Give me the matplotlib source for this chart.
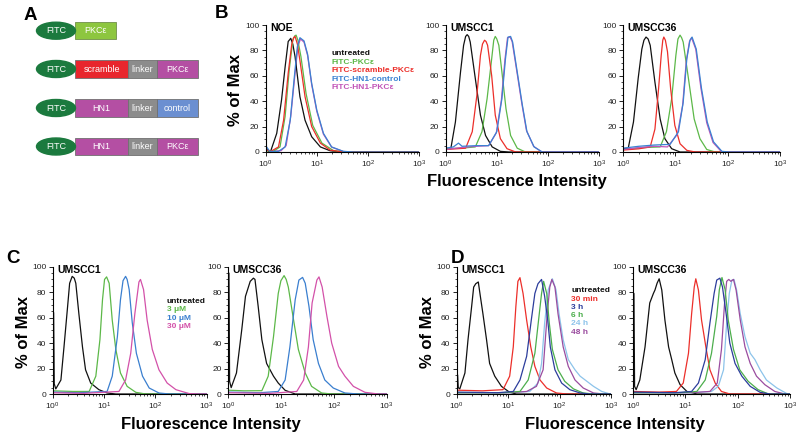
import matplotlib
matplotlib.use("Agg")
import matplotlib.pyplot as plt
import numpy as np
from matplotlib.patches import Ellipse, Rectangle
from matplotlib.ticker import FixedLocator, MultipleLocator, FuncFormatter, LogLocator, NullFormatter

plt.rcParams['font.family'] = ['Liberation Sans', 'DejaVu Sans']
plt.rcParams['mathtext.default'] = 'regular'

W, H = 800, 436

# ---- panel A constructs ----
a_rows = [["PKCε"], ["scramble", "linker", "PKCε"], ["HN1", "linker", "control"], ["HN1", "linker", "PKCε"]]
a_seg_colors = {"PKCε": "#b44fa3", "scramble": "#e8262d", "linker": "#8c8c8c",
                "HN1": "#b44fa3", "control": "#6b8fd1"}
a_first_color = "#8dc63f"   # PKCε alone is green

# ---- histogram data: (log10 intensity, % of max) ----
# B, NOE
noe_untr = [(0, 4), (0.05, 0.5), (0.1, 1), (0.216, 14.7), (0.31, 41), (0.38, 67), (0.44, 87), (0.49, 89.5), (0.53, 85), (0.575, 75), (0.67, 43.5), (0.77, 25), (0.9, 12), (1.07, 4), (1.26, 1), (1.46, 0), (3, 0)]
noe_pkc = [(0, 1), (0.15, 0.5), (0.28, 4), (0.38, 28), (0.46, 64.5), (0.53, 88), (0.57, 91.5), (0.595, 92), (0.63, 88), (0.69, 75), (0.79, 46), (0.92, 21), (1.1, 7), (1.33, 1), (1.59, 0), (3, 0)]
noe_scr = [(0, 2), (0.1, 0.5), (0.25, 4), (0.35, 25), (0.44, 62), (0.51, 85), (0.545, 90), (0.575, 91), (0.62, 85), (0.67, 72), (0.77, 43.5), (0.9, 20), (1.07, 7), (1.26, 1.5), (1.52, 0), (3, 0)]
noe_ctrl = [(0, 5), (0.08, 0.5), (0.25, 0.5), (0.38, 4), (0.48, 25), (0.56, 59), (0.62, 83), (0.67, 90), (0.75, 87.5), (0.82, 77), (0.9, 54), (1.0, 33), (1.13, 14.7), (1.29, 4), (1.52, 0.5), (1.72, 0), (3, 0)]
noe_hn1 = [(0, 3), (0.08, 0.5), (0.3, 1), (0.4, 5), (0.49, 28), (0.57, 60), (0.63, 83), (0.68, 89), (0.75, 86.5), (0.82, 76), (0.9, 53), (1.0, 32), (1.13, 14), (1.29, 3.8), (1.52, 0.4), (1.72, 0), (3, 0)]
# B, UMSCC1
b1_untr = [(0, 3), (0.1, 2.6), (0.19, 23.6), (0.29, 63), (0.35, 84), (0.39, 91), (0.42, 92.4), (0.45, 91), (0.48, 86.6), (0.58, 57.7), (0.68, 29), (0.78, 13), (0.91, 4), (1.07, 0.5), (1.24, 0), (3, 0)]
b1_pkc = [(0, 2.6), (0.3, 3), (0.58, 4), (0.71, 16), (0.81, 42), (0.9, 73.5), (0.94, 88), (0.97, 91), (1.0, 89), (1.04, 84), (1.1, 63), (1.18, 34), (1.27, 13), (1.4, 3), (1.56, 0), (3, 0)]
b1_scr = [(0, 2), (0.2, 2.5), (0.39, 3), (0.52, 16), (0.61, 44.6), (0.68, 76), (0.72, 85), (0.76, 88), (0.79, 87), (0.82, 84), (0.9, 60), (0.97, 29), (1.07, 10.5), (1.2, 2.6), (1.37, 0), (3, 0)]
b1_ctrl = [(0, 3), (0.15, 4), (0.25, 7), (0.32, 4.5), (0.6, 5), (0.84, 5), (1.0, 16), (1.1, 42), (1.17, 73.5), (1.22, 90.5), (1.27, 91), (1.31, 86.6), (1.4, 63), (1.5, 37), (1.59, 16), (1.73, 4), (1.89, 0), (3, 0)]
b1_hn1 = [(0, 2), (0.3, 3.5), (0.6, 4.5), (0.84, 5), (0.99, 15), (1.09, 41), (1.16, 73), (1.21, 90), (1.26, 90.5), (1.3, 87), (1.39, 64), (1.49, 38), (1.58, 17), (1.72, 4.5), (1.88, 0), (3, 0)]
# B, UMSCC36
b36_untr = [(0, 2.6), (0.1, 3), (0.2, 23.6), (0.29, 58), (0.36, 81), (0.4, 88), (0.44, 90.5), (0.48, 89), (0.52, 84), (0.61, 55), (0.71, 26), (0.8, 10.5), (0.93, 2.6), (1.09, 0), (3, 0)]
b36_pkc = [(0, 2), (0.4, 3.5), (0.71, 4), (0.83, 16), (0.93, 42), (1.01, 76), (1.05, 89), (1.09, 92), (1.12, 90), (1.15, 86.6), (1.25, 58), (1.36, 26), (1.47, 10.5), (1.6, 2), (1.76, 0), (3, 0)]
b36_scr = [(0, 1.5), (0.3, 2.5), (0.52, 4), (0.61, 18), (0.68, 50), (0.73, 76), (0.76, 88), (0.78, 90.5), (0.81, 88), (0.85, 79), (0.91, 50), (0.99, 21), (1.09, 6.5), (1.22, 1.3), (1.38, 0), (3, 0)]
b36_ctrl = [(0, 3), (0.3, 4.5), (0.6, 5.5), (0.9, 6), (1.06, 16), (1.15, 39), (1.22, 73.5), (1.28, 88), (1.32, 90.5), (1.4, 81), (1.5, 50), (1.61, 23.6), (1.73, 8), (1.89, 0.5), (2.04, 0), (3, 0)]
b36_hn1 = [(0, 2), (0.3, 3.5), (0.6, 4.5), (0.85, 4), (1.04, 14), (1.14, 37), (1.21, 72), (1.27, 87), (1.31, 90), (1.39, 81), (1.49, 50), (1.6, 23), (1.72, 7.5), (1.88, 0.3), (2.04, 0), (3, 0)]
# C, UMSCC1
c1_untr = [(0, 3), (0.018, 64), (0.03, 8), (0.06, 4), (0.16, 11), (0.22, 37), (0.29, 68.6), (0.33, 87), (0.38, 92.4), (0.42, 91), (0.45, 87), (0.51, 63), (0.58, 37), (0.64, 19), (0.74, 8.6), (0.9, 3.4), (1.06, 0.8), (1.23, 0), (3, 0)]
c1_3 = [(0, 2.5), (0.4, 2), (0.71, 2), (0.84, 14), (0.92, 42.7), (0.97, 74), (1.01, 90), (1.05, 92), (1.1, 87), (1.16, 58), (1.23, 35), (1.32, 16.5), (1.45, 6), (1.62, 1.3), (1.81, 0), (3, 0)]
c1_10 = [(0, 1.5), (0.5, 1), (1.06, 2), (1.16, 14), (1.26, 45), (1.32, 74), (1.37, 89), (1.42, 92.4), (1.45, 90), (1.49, 82), (1.55, 56), (1.63, 32), (1.75, 14), (1.88, 4.7), (2.07, 0.8), (2.27, 0), (3, 0)]
c1_30 = [(0, 1), (0.6, 0.5), (1.29, 2), (1.42, 11), (1.52, 32), (1.6, 63), (1.68, 88), (1.71, 90), (1.77, 82), (1.84, 58), (1.94, 35), (2.07, 19), (2.23, 8.6), (2.4, 3.4), (2.66, 0.3), (2.85, 0), (3, 0)]
# C, UMSCC36
c36_untr = [(0, 3), (0.018, 95), (0.03, 10), (0.06, 5), (0.16, 16.5), (0.26, 50.5), (0.33, 76.7), (0.42, 88.5), (0.48, 91), (0.51, 90), (0.57, 69), (0.64, 42.7), (0.73, 24), (0.86, 14), (0.95, 8.6), (1.08, 2.9), (1.27, 0), (3, 0)]
c36_3 = [(0, 3), (0.3, 2.5), (0.64, 2.6), (0.76, 14), (0.86, 45), (0.95, 79), (1.0, 89), (1.06, 93), (1.1, 90), (1.14, 84), (1.24, 58), (1.33, 35), (1.46, 16.5), (1.58, 6), (1.77, 0.8), (1.96, 0), (3, 0)]
c36_10 = [(0, 1.5), (0.6, 1), (0.95, 2), (1.08, 11), (1.17, 37), (1.27, 74), (1.34, 89.5), (1.41, 91.6), (1.46, 87), (1.53, 69), (1.61, 42.7), (1.71, 24), (1.83, 11), (1.99, 4.7), (2.21, 0.8), (2.46, 0), (3, 0)]
c36_30 = [(0, 1), (0.8, 0.5), (1.3, 2), (1.43, 11), (1.52, 37), (1.59, 71.5), (1.68, 89.5), (1.72, 92), (1.78, 84), (1.87, 61), (1.96, 40), (2.09, 21.7), (2.21, 14), (2.37, 6), (2.59, 1.3), (2.84, 0), (3, 0)]
# D, UMSCC1
d1_untr = [(0, 3), (0.018, 15), (0.03, 5), (0.06, 4), (0.16, 16.5), (0.22, 42.7), (0.29, 68.6), (0.33, 84), (0.37, 86.6), (0.42, 88), (0.46, 76.7), (0.51, 63), (0.58, 42.7), (0.64, 24), (0.74, 14), (0.87, 6), (1.03, 1.3), (1.16, 0), (3, 0)]
d1_30m = [(0, 3), (0.5, 2.5), (0.9, 3.4), (1.03, 14), (1.1, 37), (1.15, 68.6), (1.19, 88.5), (1.23, 91.4), (1.29, 79), (1.36, 58), (1.44, 37), (1.52, 21.7), (1.62, 11), (1.75, 4.7), (1.94, 0.8), (2.14, 0), (3, 0)]
d1_3h = [(0, 1.5), (0.8, 1), (1.1, 2), (1.23, 11), (1.36, 29.6), (1.45, 58), (1.52, 79), (1.58, 86.6), (1.65, 90), (1.71, 76.7), (1.77, 58), (1.82, 37), (1.91, 19), (2.04, 8.6), (2.2, 3.4), (2.4, 0.8), (2.59, 0), (3, 0)]
d1_6h = [(0, 1), (0.9, 1), (1.23, 2), (1.39, 11), (1.52, 32), (1.6, 61), (1.65, 79), (1.69, 88.5), (1.75, 79), (1.8, 55.8), (1.86, 35), (1.97, 19), (2.1, 10), (2.27, 4), (2.46, 0.8), (2.66, 0), (3, 0)]
d1_24h = [(0, 1), (1.0, 1), (1.42, 2), (1.58, 8.6), (1.65, 24), (1.71, 55.8), (1.78, 82), (1.86, 90.5), (1.93, 82), (1.99, 63), (2.07, 42.7), (2.17, 27), (2.3, 19), (2.4, 14), (2.53, 10), (2.66, 6), (2.82, 2), (2.98, 0), (3, 0)]
d1_48h = [(0, 1), (1.0, 1), (1.36, 2), (1.55, 6), (1.68, 19), (1.76, 63), (1.81, 84), (1.85, 90), (1.91, 84), (1.97, 63), (2.07, 37), (2.17, 21.7), (2.3, 11), (2.46, 4.7), (2.66, 0.8), (2.85, 0), (3, 0)]
# D, UMSCC36
d36_untr = [(0, 3), (0.018, 79), (0.03, 6), (0.06, 3.4), (0.13, 11), (0.23, 37), (0.32, 71.5), (0.39, 79), (0.42, 81.7), (0.46, 87), (0.5, 90.5), (0.55, 81.7), (0.61, 58), (0.68, 37), (0.74, 27), (0.8, 16.5), (0.9, 7.3), (1.03, 2), (1.22, 0), (3, 0)]
d36_30m = [(0, 2), (0.5, 1.5), (0.83, 2), (0.96, 8.6), (1.06, 32), (1.12, 63), (1.17, 84), (1.2, 90.5), (1.25, 81.7), (1.31, 58), (1.4, 35), (1.47, 19), (1.57, 8.6), (1.69, 2), (1.85, 0), (3, 0)]
d36_3h = [(0, 1.5), (0.8, 1), (1.12, 2), (1.25, 8.6), (1.38, 27), (1.47, 55.8), (1.55, 79), (1.6, 89.5), (1.66, 91), (1.71, 84), (1.78, 63), (1.85, 40), (1.95, 24), (2.08, 14), (2.24, 6), (2.43, 1.3), (2.62, 0), (3, 0)]
d36_6h = [(0, 1), (0.9, 1), (1.22, 2), (1.38, 11), (1.5, 32), (1.6, 61), (1.65, 82), (1.7, 91.5), (1.76, 82), (1.82, 58), (1.92, 35), (2.04, 19), (2.2, 10), (2.39, 3.4), (2.59, 0), (3, 0)]
d36_24h = [(0, 1), (1.1, 1), (1.5, 2), (1.63, 6), (1.73, 19), (1.79, 55.8), (1.84, 79), (1.89, 89.5), (1.93, 90), (1.98, 81.7), (2.05, 63), (2.14, 45), (2.24, 32), (2.33, 27), (2.43, 19), (2.55, 11), (2.75, 4.7), (2.94, 0.3), (3, 0)]
d36_48h = [(0, 1), (1.1, 1), (1.47, 2), (1.61, 8.6), (1.69, 35), (1.75, 71.5), (1.79, 88.5), (1.83, 90), (1.87, 88.5), (1.92, 90), (1.97, 81.7), (2.05, 58), (2.14, 37), (2.24, 24), (2.36, 14), (2.52, 7.3), (2.71, 2), (2.9, 0), (3, 0)]

b_labels = ["untreated", "FITC-PKCε", "FITC-scramble-PKCε", "FITC-HN1-control", "FITC-HN1-PKCε"]
b_colors = ["#111111", "#5cb848", "#ec2f2a", "#3a82d2", "#c154b8"]
c_labels = ["untreated", "3 μM", "10 μM", "30 μM"]
c_colors = ["#111111", "#5cb848", "#3a7fcf", "#d351a9"]
d_labels = ["untreated", "30 min", "3 h", "6 h", "24 h", "48 h"]
d_colors = ["#111111", "#ec2f2a", "#2c3d9c", "#4cae4c", "#8cc3ea", "#9a4c9f"]

fig = plt.figure(figsize=(W / 100, H / 100), dpi=100)

# overlay in pixel coordinates for panel A and free text
ov = fig.add_axes([0, 0, 1, 1])
ov.set_xlim(0, W)
ov.set_ylim(H, 0)
ov.axis('off')

row_y = [30.7, 69, 108, 146.5]
seg_x = [75.3, 127.7, 156.7, 198.3]
for r, names in enumerate(a_rows):
    y = row_y[r]
    if len(names) == 1:
        ov.add_patch(Rectangle((75.3, y - 8.8), 40.7, 17.6, fc=a_first_color, ec="#6f8f4a", lw=0.6))
        ov.text(95.6, y, names[0], color='white', fontsize=6.5, ha='center', va='center')
    else:
        for k, nm in enumerate(names):
            ov.add_patch(Rectangle((seg_x[k], y - 8.8), seg_x[k + 1] - seg_x[k], 17.6,
                                   fc=a_seg_colors[nm], ec="#707070", lw=0.6))
            ov.text((seg_x[k] + seg_x[k + 1]) / 2, y, nm, color='white', fontsize=6.5,
                    ha='center', va='center')
    ov.add_patch(Ellipse((56, y), 39, 17, fc="#1b7a3e", ec="#1b7a3e"))
    ov.text(56, y, "FITC", color='white', fontsize=6.5, ha='center', va='center')

for letter, (lx, ly) in zip("ABCD", [(30, 15), (221, 14), (13, 258), (457, 258)]):
    ov.text(lx, ly, letter, fontsize=13.5, fontweight='bold', ha='center', va='center')

for (tx, ty) in [(236, 90), (24, 332), (427, 332)]:
    ov.text(tx, ty, "% of Max", fontsize=12, fontweight='bold', rotation=90, ha='center', va='center')
for (tx, ty) in [(517, 181), (211, 424), (615, 424)]:
    ov.text(tx, ty, "Fluorescence Intensity", fontsize=12, fontweight='bold', ha='center', va='center')


def hist_axes(x0, x1, ytop, ybot, name):
    ax = fig.add_axes([x0 / W, 1 - ybot / H, (x1 - x0) / W, (ybot - ytop) / H])
    ax.set_xscale('log')
    ax.set_xlim(1, 1000)
    ax.set_ylim(0, 100)
    ax.patch.set_alpha(0)
    for s in ['top', 'right']:
        ax.spines[s].set_visible(False)
    for s in ['left', 'bottom']:
        ax.spines[s].set_linewidth(0.8)
    ax.yaxis.set_major_locator(FixedLocator([0, 20, 40, 60, 80, 100]))
    ax.yaxis.set_minor_locator(MultipleLocator(5))
    ax.xaxis.set_major_locator(FixedLocator([1, 10, 100, 1000]))
    ax.xaxis.set_minor_locator(LogLocator(base=10, subs=np.arange(2, 10)))
    ax.xaxis.set_minor_formatter(NullFormatter())
    ax.xaxis.set_major_formatter(FuncFormatter(lambda v, p: "$10^{%d}$" % round(np.log10(v))))
    ax.tick_params(which='major', length=3, width=0.7, labelsize=6, pad=1.5, colors='#222222')
    ax.tick_params(which='minor', length=1.6, width=0.5)
    ax.text(0.03, 0.975, name, transform=ax.transAxes, fontsize=7.5, fontweight='bold',
            ha='left', va='center')
    return ax


def draw(ax, curves, colors, lw=0.9):
    for pts, col in zip(curves, colors):
        d = np.array(pts)
        ax.plot(10 ** d[:, 0], d[:, 1], color=col, lw=lw, solid_joinstyle='round')


def legend(ax, labels, colors, x, y0, dy):
    for i, (lab, col) in enumerate(zip(labels, colors)):
        ax.text(x, y0 - i * dy, lab, transform=ax.transAxes, color=col, fontsize=6,
                fontweight='bold', ha='left', va='center')


# B
ax = hist_axes(265.7, 419, 25, 152, "NOE")
order = [4, 0, 1, 2, 3]
cs = [noe_untr, noe_pkc, noe_scr, noe_ctrl, noe_hn1]
draw(ax, [cs[i] for i in order], [b_colors[i] for i in order])
legend(ax, b_labels, b_colors, 0.43, 0.772, 0.066)

ax = hist_axes(445.7, 599, 25, 152, "UMSCC1")
draw(ax, [b1_untr, b1_pkc, b1_scr, b1_hn1, b1_ctrl], [b_colors[0], b_colors[1], b_colors[2], b_colors[4], b_colors[3]])

ax = hist_axes(623, 780, 25, 152, "UMSCC36")
draw(ax, [b36_untr, b36_pkc, b36_scr, b36_hn1, b36_ctrl], [b_colors[0], b_colors[1], b_colors[2], b_colors[4], b_colors[3]])

# C
ax = hist_axes(52.7, 206.7, 266.7, 394, "UMSCC1")
draw(ax, [c1_untr, c1_3, c1_10, c1_30], c_colors)
legend(ax, c_labels, c_colors, 0.74, 0.725, 0.065)

ax = hist_axes(228, 386.7, 266.7, 394, "UMSCC36")
draw(ax, [c36_untr, c36_3, c36_10, c36_30], c_colors)

# D
ax = hist_axes(456.7, 611, 266.7, 394, "UMSCC1")
draw(ax, [d1_untr, d1_30m, d1_24h, d1_48h, d1_6h, d1_3h],
     [d_colors[0], d_colors[1], d_colors[4], d_colors[5], d_colors[3], d_colors[2]])
legend(ax, d_labels, d_colors, 0.741, 0.811, 0.065)

ax = hist_axes(633, 790, 266.7, 394, "UMSCC36")
draw(ax, [d36_untr, d36_30m, d36_24h, d36_48h, d36_6h, d36_3h],
     [d_colors[0], d_colors[1], d_colors[4], d_colors[5], d_colors[3], d_colors[2]])

fig.savefig("out.png", dpi=100)
